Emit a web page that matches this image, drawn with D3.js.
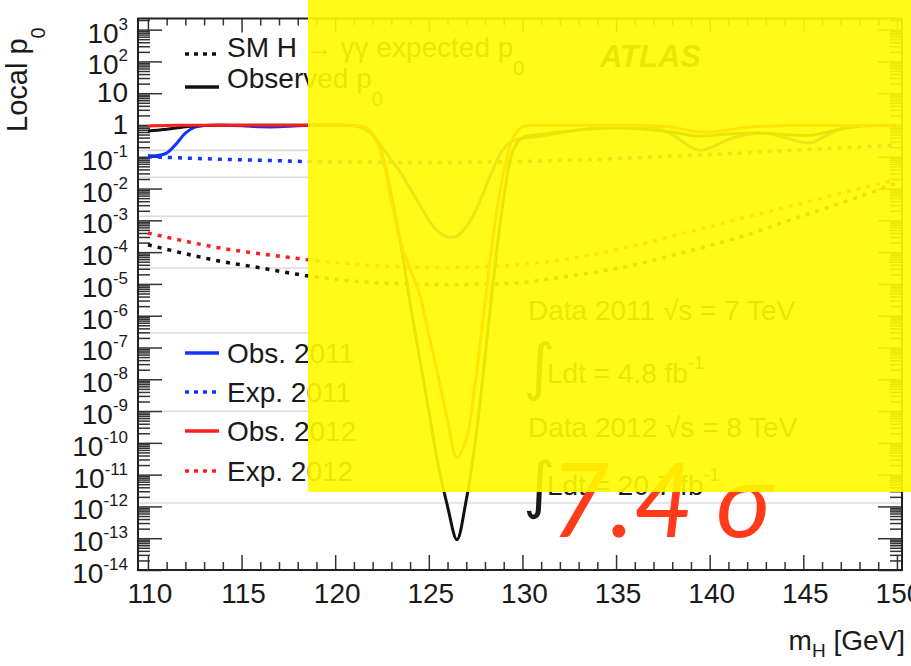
<!DOCTYPE html>
<html><head><meta charset="utf-8">
<script src="https://cdn.jsdelivr.net/npm/d3@7"></script>
<style>
body{margin:0;background:#fff}
svg{display:block}
text{font-family:"Liberation Sans",Arial,Helvetica,sans-serif;fill:#1a1a1a}
</style>
</head><body>
<svg id="chart" width="911" height="666"></svg>
<script>
// ---------------- data ----------------
const obsMass = [110,110.5,111,111.5,112,112.5,113,114,115,116,117,118,119,120,121,121.5,122,122.5,123,123.5,124,124.5,125,125.5,126,126.5,127,127.5,128,128.5,129,129.5,130,131,132,133,134,135,136,137,138,139,139.5,140,141,142,143,144,145,145.5,146,147,148,149,150];
const obsCombined = [0.65,0.68,0.74,0.8,0.88,0.94,0.97,0.98,0.98,0.98,0.98,0.98,0.98,0.98,0.95,0.8,0.5,0.12,6e-3,1.8e-4,2.5e-6,5e-8,1e-9,2e-11,1e-12,9e-14,1.6e-12,1.3e-10,5e-8,2.5e-5,5e-3,0.16,0.4,0.5,0.6,0.7,0.78,0.8,0.78,0.7,0.6,0.47,0.45,0.47,0.52,0.55,0.55,0.5,0.47,0.48,0.55,0.75,0.92,0.97,0.98];
const obs2011 = [0.11,0.11,0.13,0.25,0.55,0.85,0.97,0.98,0.95,0.88,0.88,0.95,0.98,0.98,0.95,0.8,0.5,0.2,0.08,0.032,0.01,3.2e-3,1e-3,4.5e-4,3e-4,3.2e-4,6.3e-4,2e-3,0.01,0.05,0.18,0.32,0.38,0.45,0.56,0.7,0.8,0.92,0.95,0.85,0.5,0.2,0.16,0.19,0.35,0.5,0.55,0.4,0.28,0.28,0.4,0.75,0.95,0.98,0.98];
const obs2012 = [0.92,0.95,0.97,0.98,0.98,0.98,0.98,0.98,0.98,0.98,0.98,0.98,0.98,0.98,0.97,0.88,0.55,0.1,4e-3,2e-4,3e-5,5e-6,2.5e-7,1.3e-8,5e-10,3.5e-11,1.3e-10,1e-8,2.5e-6,6e-4,0.032,0.4,0.88,0.97,0.98,0.98,0.98,0.98,0.98,0.95,0.85,0.65,0.6,0.6,0.7,0.85,0.92,0.97,0.97,0.97,0.97,0.97,0.97,0.97,0.97];

const expMass = [110,112,114,116,118,120,122,124,126,128,130,132,134,136,138,140,142,144,146,148,150];
const expCombined = [1.7e-4,8.9e-5,5e-5,3.2e-5,2e-5,1.4e-5,1.1e-5,1e-5,9.5e-6,1e-5,1.1e-5,1.6e-5,2.4e-5,4e-5,7.9e-5,1.6e-4,3.5e-4,8.9e-4,2.2e-3,5.6e-3,0.015];
const exp2011 = [0.1,0.091,0.083,0.078,0.072,0.069,0.068,0.066,0.066,0.068,0.071,0.076,0.083,0.093,0.105,0.117,0.135,0.155,0.178,0.204,0.234];
const exp2012 = [4e-4,2.2e-4,1.3e-4,8.9e-5,6.3e-5,4.7e-5,3.8e-5,3.4e-5,3.3e-5,3.5e-5,4.2e-5,5.6e-5,8.9e-5,1.6e-4,3.2e-4,6.3e-4,1.3e-3,2.5e-3,5e-3,0.01,0.019];

const xTickValues = [110,115,120,125,130,135,140,145,150];
const yTickExponents = [3,2,1,0,-1,-2,-3,-4,-5,-6,-7,-8,-9,-10,-11,-12,-13,-14];
const sigmaP = [0.1587,0.02275,1.35e-3,3.17e-5,2.87e-7,9.87e-10,1.28e-12];

// ---------------- layout ----------------
const L = 138, R = 902, T = 18.5, B = 570;
const svg = d3.select("#chart");
const x = d3.scaleLinear().domain([109.47,150.27]).range([L,R]);
const y = d3.scaleLog().domain([1e-14, Math.pow(10,3.35)]).range([B,T]);

svg.append("defs").append("clipPath").attr("id","clip")
  .append("rect").attr("x",L).attr("y",T).attr("width",R-L).attr("height",B-T);

// sigma lines
svg.append("g").selectAll("line").data(sigmaP).join("line")
  .attr("x1",L).attr("x2",R).attr("y1",d=>y(d)).attr("y2",d=>y(d))
  .attr("stroke","#dcdcdc").attr("stroke-width",1.6);

// ticks
const tickColor = "#333";
function styleAxis(g){
  g.select(".domain").remove();
  g.selectAll(".tick line").attr("stroke",tickColor).attr("stroke-width",1.5);
  g.selectAll(".tick text").remove();
}
const minorX = d3.range(110,150.5,1).filter(v=>v%5!==0);
svg.append("g").attr("transform",`translate(0,${B})`).call(d3.axisBottom(x).tickValues(xTickValues).tickSize(-15)).call(styleAxis);
svg.append("g").attr("transform",`translate(0,${B})`).call(d3.axisBottom(x).tickValues(minorX).tickSize(-8)).call(styleAxis);
svg.append("g").attr("transform",`translate(0,${T})`).call(d3.axisTop(x).tickValues(xTickValues).tickSize(-14)).call(styleAxis);
svg.append("g").attr("transform",`translate(0,${T})`).call(d3.axisTop(x).tickValues(minorX).tickSize(-7)).call(styleAxis);

const majorY = yTickExponents.map(e=>Math.pow(10,e));
const minorY = [];
yTickExponents.forEach(e=>{ for(let k=2;k<=9;k++){ const v=k*Math.pow(10,e); if(v<=Math.pow(10,3.35)) minorY.push(v);} });
svg.append("g").attr("transform",`translate(${L},0)`).call(d3.axisLeft(y).tickValues(majorY).tickSize(-24)).call(styleAxis);
svg.append("g").attr("transform",`translate(${L},0)`).call(d3.axisLeft(y).tickValues(minorY).tickSize(-12)).call(styleAxis);
svg.append("g").attr("transform",`translate(${R},0)`).call(d3.axisRight(y).tickValues(majorY).tickSize(-24)).call(styleAxis);
svg.append("g").attr("transform",`translate(${R},0)`).call(d3.axisRight(y).tickValues(minorY).tickSize(-12)).call(styleAxis);

// frame
svg.append("rect").attr("x",L).attr("y",T).attr("width",R-L).attr("height",B-T)
  .attr("fill","none").attr("stroke","#222").attr("stroke-width",2);

// x labels
svg.append("g").selectAll("text").data(xTickValues).join("text")
  .attr("x",d=>x(d)+2).attr("y",603).attr("text-anchor","middle")
  .attr("font-size",28).text(d=>d);

// y labels
const yl = svg.append("g").selectAll("text").data(yTickExponents).join("text")
  .attr("x",128).attr("text-anchor","end").attr("font-size",28)
  .attr("y",d=> y(Math.pow(10,d)) + ((d===0||d===1)?9:13));
yl.each(function(d){
  const t = d3.select(this);
  if(d===0){ t.text("1"); return; }
  if(d===1){ t.text("10"); return; }
  t.append("tspan").text("10");
  t.append("tspan").attr("dy",-13).attr("font-size",17).text(String(d));
});

// axis titles
const xt = svg.append("text").attr("x",905).attr("y",650).attr("text-anchor","end").attr("font-size",28);
xt.append("tspan").text("m");
xt.append("tspan").attr("dy",7).attr("font-size",19).text("H");
xt.append("tspan").attr("dy",-7).text(" [GeV]");

const yt = svg.append("text").attr("transform","translate(27,132) rotate(-90)").attr("font-size",29);
yt.append("tspan").text("Local p");
yt.append("tspan").attr("dy",18).attr("font-size",20).text("0");

// curves
const line = d3.line().x(d=>x(d[0])).y(d=>y(d[1])).curve(d3.curveCatmullRom.alpha(0.5));
const curves = svg.append("g").attr("clip-path","url(#clip)");
const BLUE = "#1433ff", RED = "#ff1e1e", BLACK = "#111";
const series = [
  {m:expMass, v:expCombined, c:BLACK, dash:true},
  {m:expMass, v:exp2011, c:BLUE, dash:true},
  {m:expMass, v:exp2012, c:RED, dash:true},
  {m:obsMass, v:obs2011, c:BLUE, dash:false},
  {m:obsMass, v:obsCombined, c:BLACK, dash:false},
  {m:obsMass, v:obs2012, c:RED, dash:false}
];
series.forEach(s=>{
  curves.append("path").attr("d", line(s.m.map((mm,i)=>[mm,s.v[i]])))
    .attr("fill","none").attr("stroke",s.c).attr("stroke-width",s.dash?3.5:3)
    .attr("stroke-dasharray",s.dash?"4,6":null).attr("stroke-linejoin","round");
});

// legend
function legendLine(y0,color,dash){
  svg.append("line").attr("x1",185).attr("x2",219).attr("y1",y0).attr("y2",y0)
    .attr("stroke",color).attr("stroke-width",3.5).attr("stroke-dasharray",dash?"4,5":null);
}
legendLine(54,BLACK,true);
legendLine(87,BLACK,false);
const lt1 = svg.append("text").attr("x",227).attr("y",57).attr("font-size",28);
lt1.append("tspan").text("SM H \u2192 \u03b3\u03b3 expected p");
lt1.append("tspan").attr("dy",18).attr("font-size",20).text("0");
const lt2 = svg.append("text").attr("x",227).attr("y",88).attr("font-size",28);
lt2.append("tspan").text("Observed p");
lt2.append("tspan").attr("dy",18).attr("font-size",20).text("0");

const legend2 = [
  {y:353, c:BLUE, dash:false, t:"Obs. 2011"},
  {y:392, c:BLUE, dash:true, t:"Exp. 2011"},
  {y:431, c:RED, dash:false, t:"Obs. 2012"},
  {y:471, c:RED, dash:true, t:"Exp. 2012"}
];
legend2.forEach(d=>{
  legendLine(d.y,d.c,d.dash);
  svg.append("text").attr("x",227).attr("y",d.y+10).attr("font-size",28).text(d.t);
});

// ATLAS label
svg.append("text").attr("x",600).attr("y",67).attr("font-size",31)
  .attr("font-weight","bold").attr("font-style","italic").text("ATLAS");

// luminosity block
svg.append("text").attr("x",528).attr("y",320).attr("font-size",28).text("Data 2011 \u221As = 7 TeV");
svg.append("text").attr("x",523).attr("y",388).attr("font-size",62).style("font-family","DejaVu Sans").text("\u222B");
const l1 = svg.append("text").attr("x",547).attr("y",383).attr("font-size",28);
l1.append("tspan").text("Ldt = 4.8 fb");
l1.append("tspan").attr("dy",-14).attr("font-size",18).text("-1");
svg.append("text").attr("x",528).attr("y",437).attr("font-size",28).text("Data 2012 \u221As = 8 TeV");
svg.append("text").attr("x",523).attr("y",506).attr("font-size",62).style("font-family","DejaVu Sans").text("\u222B");
const l2 = svg.append("text").attr("x",547).attr("y",495).attr("font-size",28);
l2.append("tspan").text("Ldt = 20.7 fb");
l2.append("tspan").attr("dy",-14).attr("font-size",18).text("-1");

// annotation 7.4 sigma
svg.append("text").attr("x",550).attr("y",537).attr("font-size",103)
  .style("font-family","Lato, 'Open Sans', sans-serif").attr("font-weight",400).attr("font-style","italic")
  .style("fill","#ff3b1c").text("7.4");
svg.append("text").attr("x",716).attr("y",537).attr("font-size",103)
  .style("font-family","Lato, 'Open Sans', sans-serif").attr("font-weight",400).attr("font-style","italic")
  .style("fill","#ff3b1c").text("\u03c3");

// yellow overlay
svg.append("rect").attr("x",308).attr("y",0).attr("width",911-308).attr("height",492)
  .attr("fill","#fffa00").attr("fill-opacity",0.91);
</script>
</body></html>
